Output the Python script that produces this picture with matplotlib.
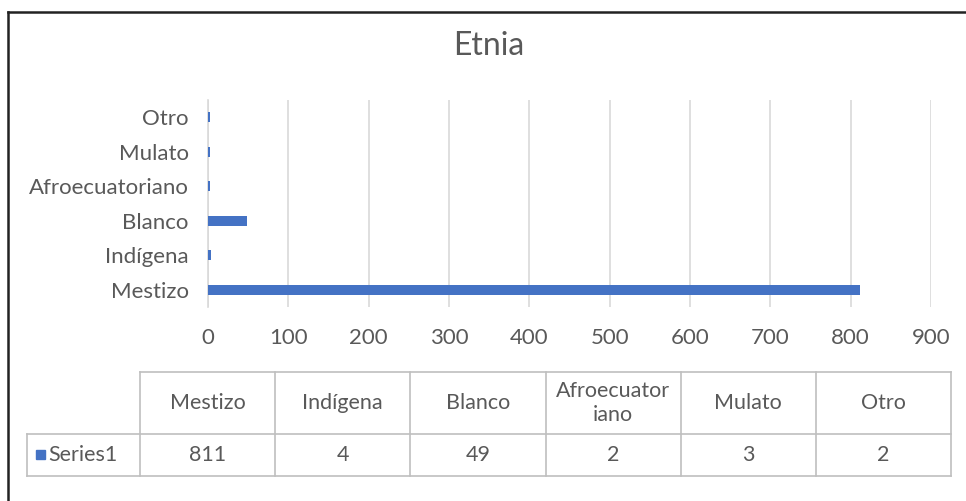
import matplotlib.pyplot as plt
from matplotlib.lines import Line2D
from matplotlib.patches import Rectangle

plt.rcParams['font.family'] = ['Lato', 'DejaVu Sans']

# Data
categories = ['Mestizo', 'Indígena', 'Blanco', 'Afroecuatoriano', 'Mulato', 'Otro']
header_labels = ['Mestizo', 'Indígena', 'Blanco', 'Afroecuator\niano', 'Mulato', 'Otro']
values = [811, 4, 49, 2, 3, 2]
series_name = 'Series1'
x_ticks = [0, 100, 200, 300, 400, 500, 600, 700, 800, 900]

text_color = '#595959'
bar_color = '#4472C4'
grid_color = '#d9d9d9'
table_color = '#bfbfbf'

W, H = 966, 501
fig = plt.figure(figsize=(W / 100, H / 100), dpi=100)


def fig_box(left, top, right, bottom):
    return [left / W, 1 - bottom / H, (right - left) / W, (bottom - top) / H]


# Bar chart
ax = fig.add_axes(fig_box(208, 100, 931, 307))
ax.barh(range(len(categories)), values, height=0.3, color=bar_color, zorder=3)
ax.set_xlim(0, 900)
ax.set_ylim(-0.5, len(categories) - 0.5)
ax.set_xticks(x_ticks)
ax.set_yticks(range(len(categories)))
ax.set_yticklabels(categories)
ax.grid(axis='x', color=grid_color, linewidth=1.2, zorder=0)
for side in ['top', 'right', 'bottom']:
    ax.spines[side].set_visible(False)
ax.spines['left'].set_color(grid_color)
ax.spines['left'].set_linewidth(1.2)
ax.tick_params(axis='both', length=0, labelsize=16, labelcolor=text_color)
ax.tick_params(axis='y', pad=14)
ax.tick_params(axis='x', pad=15)

fig.text(489 / W, 1 - 46 / H, 'Etnia', ha='center', va='center',
         fontsize=23, color=text_color)

# Data table below the chart (pixel units)
tab = fig.add_axes(fig_box(27, 372, 951, 476))
tab.set_xlim(27, 951)
tab.set_ylim(476, 372)
tab.axis('off')
col_left = 140
col_w = (951 - col_left) / len(categories)
row_mid = 434
kw = dict(color=table_color, linewidth=1.2, clip_on=False)
tab.plot([col_left, 951], [372, 372], **kw)
tab.plot([27, 951], [row_mid, row_mid], **kw)
tab.plot([27, 951], [476, 476], **kw)
tab.plot([27, 27], [row_mid, 476], **kw)
for i in range(len(categories) + 1):
    x = col_left + i * col_w
    tab.plot([x, x], [372, 476], **kw)
for i, (lab, v) in enumerate(zip(header_labels, values)):
    cx = col_left + (i + 0.5) * col_w
    tab.text(cx, (372 + row_mid) / 2, lab, ha='center', va='center',
             fontsize=15.5, color=text_color, linespacing=1.3)
    tab.text(cx, (row_mid + 476) / 2, str(v), ha='center', va='center',
             fontsize=15.5, color=text_color)
tab.add_patch(Rectangle((36, 450), 9, 9, color=bar_color, clip_on=False))
tab.text(48, (row_mid + 476) / 2, series_name, ha='left', va='center',
         fontsize=15.5, color=text_color)

# Outer frame (left and top edges)
fig.add_artist(Line2D([8 / W, 8 / W], [0, 1 - 12 / H], color='#222222', linewidth=1.8))
fig.add_artist(Line2D([8 / W, 1], [1 - 12 / H, 1 - 12 / H], color='#222222', linewidth=1.8))

fig.savefig('out.png', dpi=100)
